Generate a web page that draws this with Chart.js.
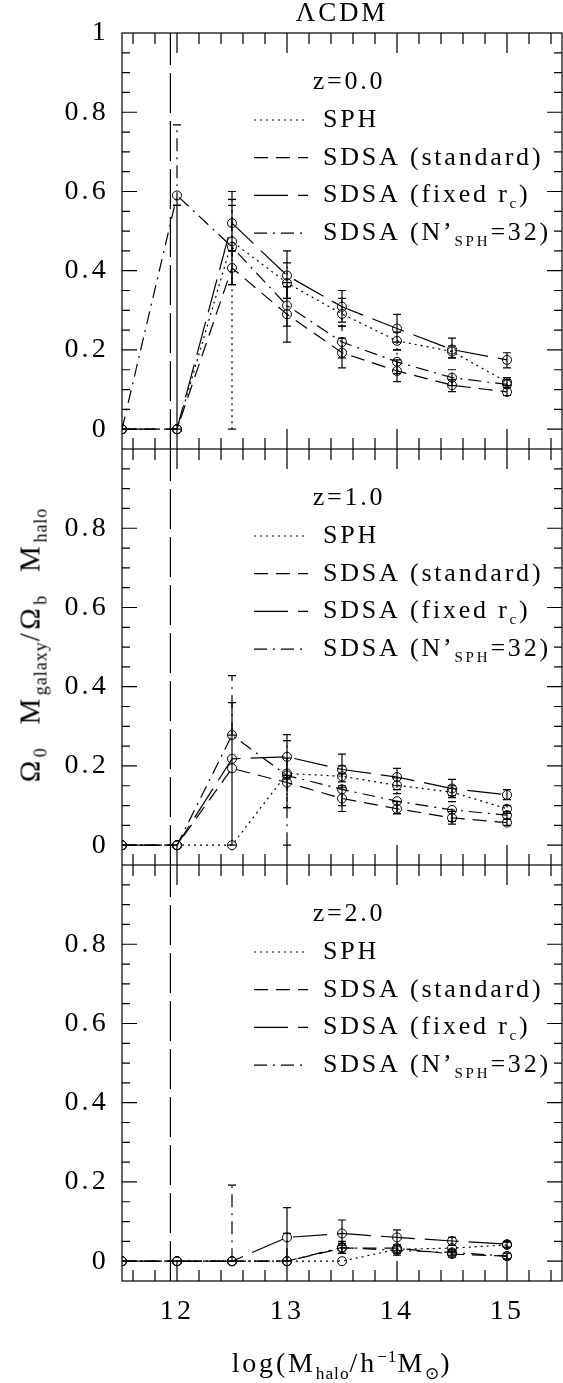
<!DOCTYPE html>
<html>
<head>
<meta charset="utf-8">
<script src="https://cdn.jsdelivr.net/npm/chart.js@4.4.0/dist/chart.umd.min.js"></script>
<style>
  body { margin: 0; background: #fff; }
  #fig { position: relative; width: 563px; height: 1383px; overflow: hidden;
         font-family: 'Liberation Serif', serif; color: #000; letter-spacing: 2.8px; }
  canvas { position: absolute; left: 0; }
  .txt { position: absolute; white-space: nowrap; font-size: 28px; line-height: 1; }
  .txt sub, .txt sup { font-size: 0.62em; line-height: 0; letter-spacing: 1px; }
  #title { left: 342px; top: -1px; font-size: 27px; transform: translateX(-50%); }
  #xtitle { left: 342px; top: 1349px; transform: translateX(-50%); }
  #ytitle { left: 30px; top: 645px; font-size: 29px; letter-spacing: 3.5px; word-spacing: 12px;
            transform: translate(-50%, -50%) rotate(-90deg); }
</style>
</head>
<body>
<div id="fig">
  <canvas id="panel0" width="563" height="449" style="top:0"></canvas>
  <canvas id="panel1" width="563" height="416" style="top:449px"></canvas>
  <canvas id="panel2" width="563" height="518" style="top:865px"></canvas>
  <div class="txt" id="title">ΛCDM</div>
  <div class="txt" id="ytitle">Ω<sub>0</sub> M<sub>galaxy</sub>/Ω<sub>b</sub> M<sub>halo</sub></div>
  <div class="txt" id="xtitle">log(M<sub>halo</sub>/h<sup>−1</sup>M<sub>⊙</sub>)</div>
</div>
<script>
// halo mass bins, log(M_halo / h^-1 Msun)
const massBins = [11.5, 12, 12.5, 13, 13.5, 14, 14.5, 15];
const resolutionLimit = 11.94;
const xTickValues = [12, 13, 14, 15];
const yTickValues = [0, 0.2, 0.4, 0.6, 0.8, 1];
const seriesLabels = ['SPH', 'SDSA (standard)', 'SDSA (fixed r_{c})', 'SDSA (N’_{SPH}=32)'];
const redshiftLabels = ['z=0.0', 'z=1.0', 'z=2.0'];

// z = 0.0
const sphZ0 = [0, 0, 0.474, 0.369, 0.291, 0.223, 0.196, 0.119];
const stdZ0 = [0, 0, 0.407, 0.290, 0.193, 0.147, 0.111, 0.094];
const fixZ0 = [0, 0, 0.520, 0.388, 0.309, 0.254, 0.201, 0.175];
const n32Z0 = [0, 0.590, 0.460, 0.312, 0.220, 0.170, 0.130, 0.113];
const sphZ0Err = [null, null, [0, 0.58], [0.33, 0.42], [0.26, 0.33], [0.20, 0.245], [0.18, 0.21], [0.11, 0.13]];
const stdZ0Err = [null, null, [0.365, 0.45], [0.22, 0.36], [0.155, 0.23], [0.12, 0.175], [0.095, 0.125], [0.085, 0.105]];
const fixZ0Err = [null, [0, 0.565], [0.45, 0.60], [0.33, 0.45], [0.27, 0.35], [0.22, 0.29], [0.18, 0.23], [0.155, 0.193]];
const n32Z0Err = [null, [0.565, 0.768], [0.365, 0.565], [0.26, 0.37], [0.18, 0.26], [0.14, 0.20], [0.11, 0.15], [0.105, 0.125]];

// z = 1.0
const sphZ1 = [0, 0, 0, 0.181, 0.174, 0.151, 0.134, 0.092];
const stdZ1 = [0, 0, 0.194, 0.158, 0.118, 0.092, 0.069, 0.057];
const fixZ1 = [0, 0, 0.218, 0.223, 0.191, 0.172, 0.143, 0.127];
const n32Z1 = [0, 0, 0.278, 0.176, 0.141, 0.111, 0.089, 0.076];
const sphZ1Err = [null, null, null, [0.095, 0.264], [0.145, 0.20], [0.13, 0.17], [0.12, 0.15], [0.08, 0.10]];
const stdZ1Err = [null, null, null, [0.095, 0.22], [0.085, 0.15], [0.079, 0.11], [0.053, 0.085], [0.05, 0.065]];
const fixZ1Err = [null, null, [0, 0.36], [0.17, 0.279], [0.16, 0.23], [0.15, 0.194], [0.125, 0.166], [0.115, 0.14]];
const n32Z1Err = [null, null, [0.278, 0.428], [0, 0.176], [0.10, 0.18], [0.08, 0.14], [0.06, 0.11], [0.065, 0.085]];

// z = 2.0
const sphZ2 = [0, 0, 0, 0, 0, 0.030, 0.033, 0.041];
const stdZ2 = [0, 0, 0, 0, 0.033, 0.033, 0.018, 0.013];
const fixZ2 = [0, 0, 0, 0.060, 0.070, 0.060, 0.051, 0.043];
const n32Z2 = [0, 0, 0, 0, 0.035, 0.027, 0.022, 0.013];
const sphZ2Err = [null, null, null, null, null, [0.02, 0.04], [0.025, 0.04], [0.035, 0.048]];
const stdZ2Err = [null, null, null, null, [0.02, 0.045], [0.02, 0.04], [0.01, 0.025], [0.005, 0.02]];
const fixZ2Err = [null, null, null, [0, 0.135], [0.04, 0.104], [0.04, 0.079], [0.04, 0.06], [0.035, 0.05]];
const n32Z2Err = [null, null, [0, 0.192], [0, 0.07], [0.02, 0.05], [0.015, 0.04], [0.015, 0.03], [0.005, 0.02]];

const FONT = '"Liberation Serif", serif';

// line styles: dotted, dashed, long dash, dash-dot
const lineDashes = [[2, 4], [14, 8], [34, 10], [13, 6, 2, 6]];
const barDashes = [[2, 4], [], [], [13, 6, 2, 6]];

function richParts(label) {
  return label.split(/_\{([^}]*)\}/).map((t, i) => ({ t: t, sub: i % 2 === 1 }));
}

const spacingPlugin = {
  id: 'spacing',
  beforeDraw(chart) {
    chart.ctx.letterSpacing = '3.2px';
  },
};

// box with inward ticks on all four sides
const framePlugin = {
  id: 'frame',
  afterDatasetsDraw(chart) {
    const { ctx, chartArea: a, scales: { x, y } } = chart;
    ctx.save();
    ctx.strokeStyle = '#000';
    ctx.lineWidth = 1.2;
    ctx.setLineDash([]);
    ctx.strokeRect(a.left, a.top, a.right - a.left, a.bottom - a.top);
    ctx.beginPath();
    for (let k = 58; k <= 77; k++) {
      const len = k % 5 === 0 ? 20 : 11;
      const px = x.getPixelForValue(k / 5);
      ctx.moveTo(px, a.top);
      ctx.lineTo(px, a.top + len);
      ctx.moveTo(px, a.bottom);
      ctx.lineTo(px, a.bottom - len);
    }
    for (let k = 0; k < 20; k++) {
      const len = k % 4 === 0 ? 15 : 8;
      const py = y.getPixelForValue(k / 20);
      ctx.moveTo(a.left, py);
      ctx.lineTo(a.left + len, py);
      ctx.moveTo(a.right, py);
      ctx.lineTo(a.right - len, py);
    }
    ctx.stroke();
    ctx.restore();
  },
};

const errorBarPlugin = {
  id: 'errorBars',
  afterDatasetsDraw(chart) {
    const { ctx, chartArea: a, scales: { x, y } } = chart;
    ctx.save();
    ctx.beginPath();
    ctx.rect(a.left, a.top, a.right - a.left, a.bottom - a.top);
    ctx.clip();
    ctx.strokeStyle = '#000';
    ctx.lineWidth = 1.2;
    chart.data.datasets.forEach((ds) => {
      if (!ds.errorBars) return;
      ds.errorBars.forEach((bar, i) => {
        if (!bar) return;
        const px = x.getPixelForValue(massBins[i]);
        const lo = y.getPixelForValue(bar[0]);
        const hi = y.getPixelForValue(bar[1]);
        ctx.setLineDash(ds.errorDash);
        ctx.beginPath();
        ctx.moveTo(px, lo);
        ctx.lineTo(px, hi);
        ctx.stroke();
        ctx.setLineDash([]);
        ctx.beginPath();
        ctx.moveTo(px - 4, lo);
        ctx.lineTo(px + 4, lo);
        ctx.moveTo(px - 4, hi);
        ctx.lineTo(px + 4, hi);
        ctx.stroke();
      });
    });
    ctx.restore();
  },
};

const legendPlugin = {
  id: 'panelLegend',
  afterDraw(chart) {
    const { ctx, chartArea: a } = chart;
    const heading = chart.options.plugins.panelLegend.heading;
    ctx.save();
    ctx.letterSpacing = '2.8px';
    ctx.fillStyle = '#000';
    ctx.strokeStyle = '#000';
    ctx.lineWidth = 1.2;
    ctx.textBaseline = 'middle';
    ctx.textAlign = 'center';
    ctx.font = '26px ' + FONT;
    ctx.fillText(heading, 349, a.top + 49);
    ctx.textAlign = 'left';
    chart.data.datasets.filter((ds) => ds.richLabel).forEach((ds, i) => {
      const rowY = a.top + 87 + i * 37.7;
      ctx.setLineDash(ds.borderDash);
      ctx.beginPath();
      ctx.moveTo(254, rowY);
      ctx.lineTo(308, rowY);
      ctx.stroke();
      ctx.setLineDash([]);
      let tx = 323;
      richParts(ds.richLabel).forEach((p) => {
        ctx.font = (p.sub ? '15px ' : '26px ') + FONT;
        ctx.fillText(p.t, tx, p.sub ? rowY + 9 : rowY);
        tx += ctx.measureText(p.t).width;
      });
    });
    ctx.restore();
  },
};

function buildPanel(canvasId, panel) {
  const datasets = panel.values.map((vals, s) => ({
    label: seriesLabels[s].replace(/_\{([^}]*)\}/g, '$1'),
    richLabel: seriesLabels[s],
    data: massBins.map((m, i) => ({ x: m, y: vals[i] })),
    errorBars: panel.errors[s],
    errorDash: barDashes[s],
    borderColor: '#000',
    borderWidth: 1.2,
    borderDash: lineDashes[s],
    pointRadius: 4.5,
    pointStyle: 'circle',
    pointBorderColor: '#000',
    pointBackgroundColor: 'rgba(0,0,0,0)',
    pointBorderWidth: 1,
    tension: 0,
    fill: false,
  }));
  datasets.push({
    label: 'resolution limit',
    data: [{ x: resolutionLimit, y: -0.05 }, { x: resolutionLimit, y: 1 }],
    borderColor: '#000',
    borderWidth: 1.2,
    borderDash: [40, 8],
    pointRadius: 0,
    fill: false,
  });

  return new Chart(document.getElementById(canvasId), {
    type: 'line',
    data: { datasets: datasets },
    options: {
      responsive: false,
      maintainAspectRatio: false,
      animation: false,
      layout: { autoPadding: false, padding: { top: panel.padTop, right: 1, bottom: 0, left: 0 } },
      plugins: {
        legend: { display: false },
        tooltip: { enabled: false },
        panelLegend: { heading: panel.heading },
      },
      scales: {
        x: {
          type: 'linear',
          min: 11.5,
          max: 15.5,
          display: panel.showX,
          grid: { display: false, drawTicks: false },
          border: { display: false },
          afterBuildTicks: (s) => { s.ticks = xTickValues.map((v) => ({ value: v })); },
          afterFit: (s) => {
            if (panel.showX) s.height = 102;
            s.paddingLeft = 0;
            s.paddingRight = 0;
          },
          ticks: {
            padding: 14,
            maxRotation: 0,
            autoSkip: false,
            color: '#000',
            font: { family: FONT, size: 28 },
            callback: (v) => String(v),
          },
        },
        y: {
          type: 'linear',
          min: -0.05,
          max: 1,
          grid: { display: false, drawTicks: false },
          border: { display: false },
          afterBuildTicks: (s) => {
            s.ticks = yTickValues.filter((v) => panel.showOne || v < 1).map((v) => ({ value: v }));
          },
          afterFit: (s) => {
            s.width = 122;
            s.paddingTop = 0;
            s.paddingBottom = 0;
          },
          ticks: {
            padding: 13,
            color: '#000',
            font: { family: FONT, size: 28 },
            callback: (v) => (v === 0 || v === 1 ? String(v) : v.toFixed(1)),
          },
        },
      },
    },
    plugins: [spacingPlugin, framePlugin, errorBarPlugin, legendPlugin],
  });
}

buildPanel('panel0', {
  heading: redshiftLabels[0], padTop: 33, showX: false, showOne: true,
  values: [sphZ0, stdZ0, fixZ0, n32Z0],
  errors: [sphZ0Err, stdZ0Err, fixZ0Err, n32Z0Err],
});
buildPanel('panel1', {
  heading: redshiftLabels[1], padTop: 0, showX: false, showOne: false,
  values: [sphZ1, stdZ1, fixZ1, n32Z1],
  errors: [sphZ1Err, stdZ1Err, fixZ1Err, n32Z1Err],
});
buildPanel('panel2', {
  heading: redshiftLabels[2], padTop: 0, showX: true, showOne: false,
  values: [sphZ2, stdZ2, fixZ2, n32Z2],
  errors: [sphZ2Err, stdZ2Err, fixZ2Err, n32Z2Err],
});
</script>
</body>
</html>
